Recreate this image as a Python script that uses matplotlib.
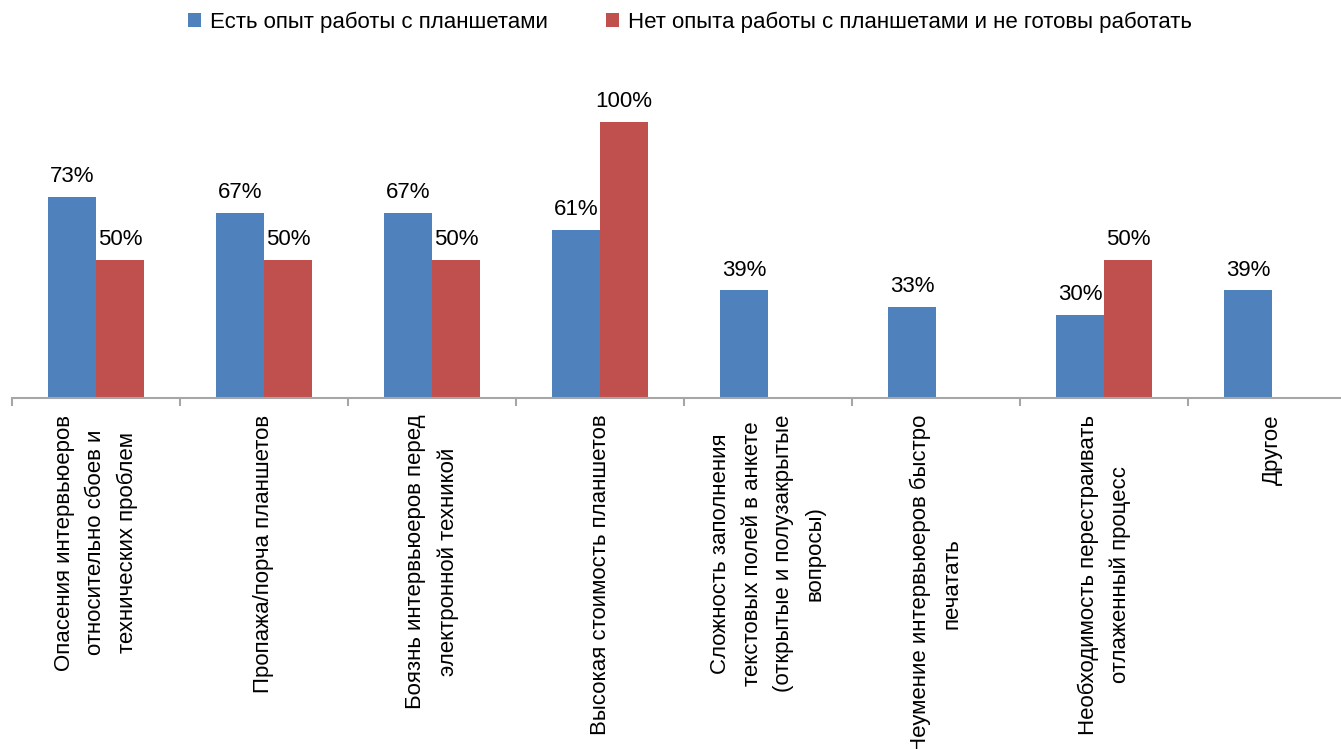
import matplotlib
matplotlib.use("Agg")
import matplotlib.pyplot as plt
import numpy as np

categories = [
    "Опасения интервьюеров\nотносительно сбоев и\nтехнических проблем",
    "Пропажа/порча планшетов",
    "Боязнь интервьюеров перед\nэлектронной техникой",
    "Высокая стоимость планшетов",
    "Сложность заполнения\nтекстовых полей в анкете\n(открытые и полузакрытые\nвопросы)",
    "Неумение интервьюеров быстро\nпечатать",
    "Необходимость перестраивать\nотлаженный процесс",
    "Другое",
]
experienced = [73, 67, 67, 61, 39, 33, 30, 39]
not_ready = [50, 50, 50, 100, np.nan, np.nan, 50, np.nan]
series_names = ["Есть опыт работы с планшетами",
                "Нет опыта работы с планшетами и не готовы работать"]

plt.rcParams["font.family"] = ["Liberation Sans", "DejaVu Sans"]
FS = 16

fig = plt.figure(figsize=(13.41, 7.49), dpi=100)
ax = fig.add_axes([12 / 1341, 351 / 749, 1344 / 1341, 276 / 749])

x = np.arange(len(categories))
w = 0.286
b1 = ax.bar(x - w / 2, experienced, w, color="#4F81BD", label=series_names[0])
b2 = ax.bar(x + w / 2, not_ready, w, color="#C0504D", label=series_names[1])

for bars, vals in ((b1, experienced), (b2, not_ready)):
    for rect, v in zip(bars, vals):
        if np.isnan(v):
            continue
        ax.annotate(f"{v:.0f}%", (rect.get_x() + rect.get_width() / 2, v),
                    xytext=(0, 7), textcoords="offset points",
                    ha="center", va="bottom", fontsize=FS, clip_on=False)

ax.set_xlim(-0.5, len(categories) - 0.5)
ax.set_ylim(0, 100)
for s in ("top", "right", "left"):
    ax.spines[s].set_visible(False)
ax.spines["bottom"].set_color("#A6A6A6")
ax.spines["bottom"].set_linewidth(1.5)
ax.set_yticks([])

ax.set_xticks(x)
ax.set_xticklabels(categories, rotation=90, ha="center", va="top",
                   multialignment="center", fontsize=FS, linespacing=1.65)
ax.tick_params(axis="x", which="major", length=0, pad=12)
ax.set_xticks(np.arange(-0.5, len(categories), 1.0), minor=True)
ax.tick_params(axis="x", which="minor", length=6, width=1.5, color="#A6A6A6",
               direction="out")

leg = fig.legend(handles=[b1, b2], labels=series_names, loc="center",
                 bbox_to_anchor=(690 / 1341, 1 - 22 / 749), ncol=2, frameon=False,
                 fontsize=FS, handlelength=0.6, handleheight=0.6, handletextpad=0.4,
                 columnspacing=2.6, borderaxespad=0, borderpad=0)

fig.savefig("out.png", dpi=100)
